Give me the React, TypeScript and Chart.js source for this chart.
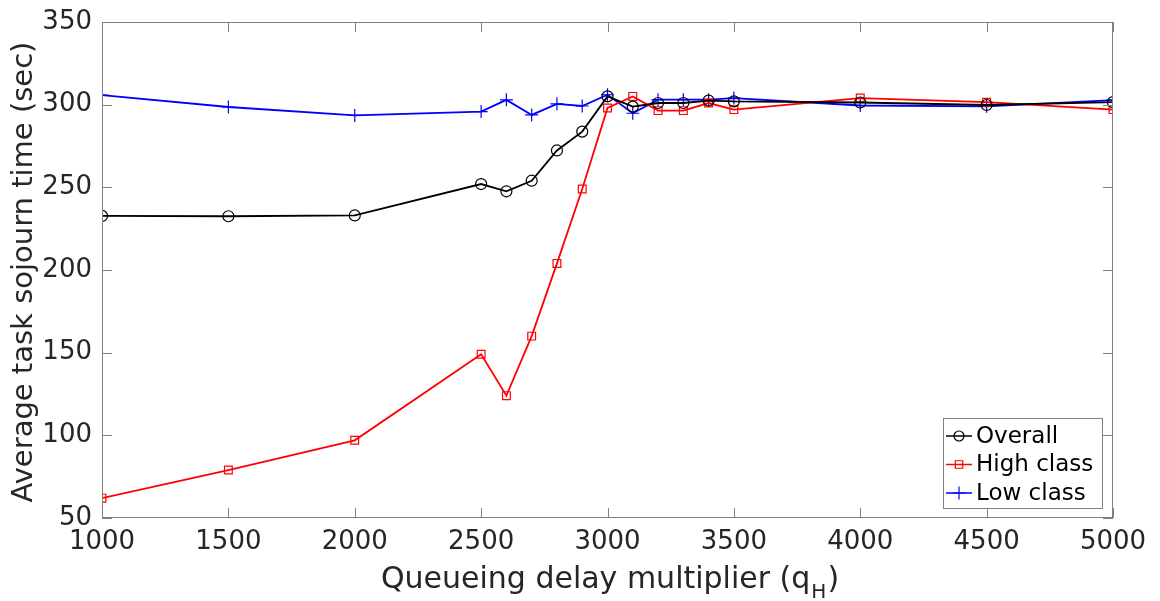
import React, { useEffect, useRef } from "react";
import { Chart, registerables } from "chart.js";

Chart.register(...registerables);

const xValues = [1000, 1500, 2000, 2500, 2600, 2700, 2800, 2900, 3000, 3100, 3200, 3300, 3400, 3500, 4000, 4500, 5000];
const overall = [232.7, 232.5, 233, 252, 247.6, 254, 272.3, 283.7, 305, 298.8, 301, 301, 302.5, 302, 301.3, 299.8, 301.5];
const highClass = [62, 79, 97, 149, 124, 160, 204, 249, 298, 305, 296.4, 296.4, 301, 297, 304, 301.5, 297];
const lowClass = [305.8, 298.6, 293.5, 295.8, 302.9, 293.8, 300.5, 299.2, 306, 294.8, 303, 303, 303, 304, 299.5, 299, 302.8];
const seriesLabels = ["Overall", "High class", "Low class"];
const xTickMin = 1000, xTickMax = 5000, xStep = 500;
const yTickMin = 50, yTickMax = 350, yStep = 50;

const FONT = "DejaVu Sans, sans-serif";
const TEXT = "#262626";
const AXIS = "#808080";

function drawMarker(ctx: CanvasRenderingContext2D, style: string, x: number, y: number, r: number, color: string) {
  ctx.save();
  ctx.strokeStyle = color;
  ctx.lineWidth = 1.2;
  ctx.beginPath();
  if (style === "circle") {
    ctx.arc(x, y, r, 0, Math.PI * 2);
  } else if (style === "rect") {
    ctx.rect(x - r * 0.75, y - r * 0.75, r * 1.5, r * 1.5);
  } else {
    ctx.moveTo(x - r, y); ctx.lineTo(x + r, y);
    ctx.moveTo(x, y - r); ctx.lineTo(x, y + r);
  }
  ctx.stroke();
  ctx.restore();
}

const framePlugin = {
  id: "matlabFrame",
  afterDatasetsDraw(chart: any) {
    const { ctx, chartArea: a, scales } = chart;
    ctx.save();
    ctx.strokeStyle = AXIS;
    ctx.lineWidth = 1;
    ctx.strokeRect(a.left + 0.5, a.top + 0.5, a.right - a.left - 1, a.bottom - a.top - 1);
    const tl = 10;
    ctx.beginPath();
    scales.x.ticks.forEach((t: any) => {
      const px = Math.round(scales.x.getPixelForValue(t.value)) + 0.5;
      ctx.moveTo(px, a.bottom); ctx.lineTo(px, a.bottom - tl);
      ctx.moveTo(px, a.top); ctx.lineTo(px, a.top + tl);
    });
    scales.y.ticks.forEach((t: any) => {
      const py = Math.round(scales.y.getPixelForValue(t.value)) + 0.5;
      ctx.moveTo(a.left, py); ctx.lineTo(a.left + tl, py);
      ctx.moveTo(a.right, py); ctx.lineTo(a.right - tl, py);
    });
    ctx.stroke();

    // y title
    ctx.fillStyle = TEXT;
    ctx.font = `29px ${FONT}`;
    ctx.textAlign = "center";
    ctx.textBaseline = "middle";
    ctx.save();
    ctx.translate(24, 272);
    ctx.rotate(-Math.PI / 2);
    ctx.fillText("Average task sojourn time (sec)", 0, 0);
    ctx.restore();

    // x title with subscript
    const main = "Queueing delay multiplier (q";
    const sub = "H";
    const close = ")";
    ctx.font = `30px ${FONT}`;
    const w1 = ctx.measureText(main).width;
    const w3 = ctx.measureText(close).width;
    ctx.font = `20px ${FONT}`;
    const w2 = ctx.measureText(sub).width;
    const total = w1 + w2 + w3;
    let sx = 609 - total / 2;
    const by = 588;
    ctx.textAlign = "left";
    ctx.textBaseline = "alphabetic";
    ctx.font = `30px ${FONT}`;
    ctx.fillText(main, sx, by);
    sx += w1;
    ctx.font = `20px ${FONT}`;
    ctx.fillText(sub, sx + 1, by + 10);
    sx += w2 + 2;
    ctx.font = `30px ${FONT}`;
    ctx.fillText(close, sx, by);

    // legend
    const lx = 943, ly = 418, lw = 159, lh = 90;
    ctx.fillStyle = "#ffffff";
    ctx.fillRect(lx, ly, lw, lh);
    ctx.strokeStyle = AXIS;
    ctx.lineWidth = 1;
    ctx.strokeRect(lx + 0.5, ly + 0.5, lw, lh);
    ctx.font = `23px ${FONT}`;
    ctx.textBaseline = "middle";
    chart.data.datasets.forEach((ds: any, i: number) => {
      const yy = ly + 18 + i * 28.5;
      ctx.strokeStyle = ds.borderColor;
      ctx.lineWidth = 1.5;
      ctx.beginPath();
      ctx.moveTo(lx + 3, yy); ctx.lineTo(lx + 29, yy);
      ctx.stroke();
      drawMarker(ctx, ds.pointStyle, lx + 16, yy, ds.pointStyle === "cross" ? 6.5 : 5, ds.borderColor);
      ctx.fillStyle = "#000";
      ctx.fillText(ds.label, lx + 33, yy + 1);
    });
    ctx.restore();
  },
};

export default function App() {
  const ref = useRef<HTMLCanvasElement>(null);
  useEffect(() => {
    const mk = (ys: number[]) => xValues.map((x, i) => ({ x, y: ys[i] }));
    const chart = new Chart(ref.current!, {
      type: "line",
      data: {
        datasets: [
          { label: seriesLabels[0], data: mk(overall), borderColor: "#000000", backgroundColor: "transparent", borderWidth: 1.8, pointStyle: "circle", pointRadius: 5.5, pointBorderWidth: 1.2, pointBackgroundColor: "transparent", tension: 0 },
          { label: seriesLabels[1], data: mk(highClass), borderColor: "#ff0000", backgroundColor: "transparent", borderWidth: 1.8, pointStyle: "rect", pointRadius: 5.5, pointBorderWidth: 1.2, pointBackgroundColor: "transparent", tension: 0 },
          { label: seriesLabels[2], data: mk(lowClass), borderColor: "#0000ff", backgroundColor: "transparent", borderWidth: 1.8, pointStyle: "cross", pointRadius: 6.5, pointBorderWidth: 1.2, pointBackgroundColor: "transparent", tension: 0 },
        ],
      },
      options: {
        animation: false,
        responsive: true,
        maintainAspectRatio: false,
        layout: { padding: { top: 22, right: 47, left: 0, bottom: 0 } },
        plugins: { legend: { display: false }, tooltip: { enabled: false } },
        scales: {
          x: {
            type: "linear",
            min: xTickMin,
            max: xTickMax,
            grid: { display: false, drawTicks: false },
            border: { display: false },
            ticks: { stepSize: xStep, padding: 9, color: TEXT, font: { family: FONT, size: 26 }, maxRotation: 0, autoSkip: false, callback: (v: any) => String(v) },
            afterFit: (s: any) => { s.height = 83; s.paddingLeft = 0; s.paddingRight = 0; },
          },
          y: {
            min: yTickMin,
            max: yTickMax,
            grid: { display: false, drawTicks: false },
            border: { display: false },
            ticks: { stepSize: yStep, padding: 10, color: TEXT, font: { family: FONT, size: 26 }, callback: (v: any) => String(v) },
            afterFit: (s: any) => { s.width = 102; s.paddingTop = 0; s.paddingBottom = 0; },
          },
        },
      },
      plugins: [framePlugin],
    });
    return () => chart.destroy();
  }, []);
  return (
    <div style={{ position: "fixed", left: 0, top: 0, width: 1160, height: 601, background: "#fff" }}>
      <canvas ref={ref} />
    </div>
  );
}
